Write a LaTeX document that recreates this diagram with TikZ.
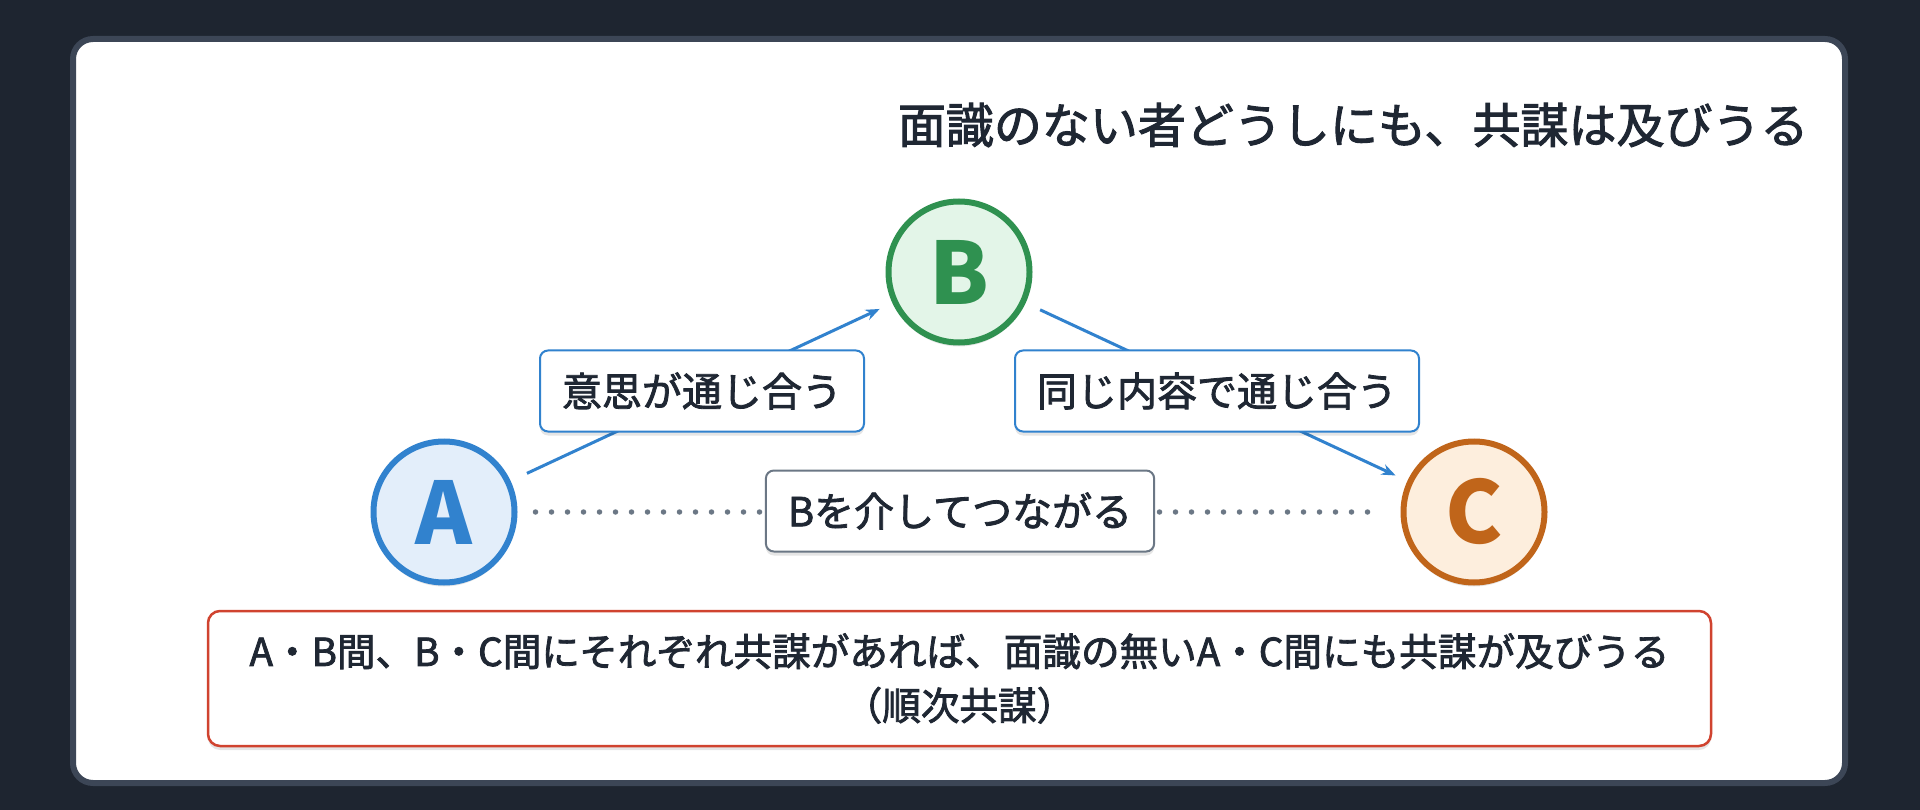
\documentclass[tikz,border=0pt]{standalone}
\usepackage{fontspec}
\setmainfont{Noto Sans CJK JP}
\newcommand\heavier[1]{\special{pdf:code 2 Tr #1 w}}
\usetikzlibrary{arrows.meta,shadows}
\definecolor{bgdark}{HTML}{1E2530}
\definecolor{cardline}{HTML}{3C4656}
\definecolor{ink}{HTML}{1F2733}
\definecolor{lineA}{HTML}{3182CE}
\definecolor{fillA}{HTML}{E3EEFA}
\definecolor{lineB}{HTML}{2F9150}
\definecolor{fillB}{HTML}{E3F5E8}
\definecolor{lineC}{HTML}{C0651A}
\definecolor{fillC}{HTML}{FDEEDD}
\definecolor{dotgray}{HTML}{6B7785}
\definecolor{notered}{HTML}{D0432F}
\tikzset{
	softshadow/.style={drop shadow={shadow xshift=0pt,shadow yshift=-4pt,opacity=0.10,fill=black}},
	person/.style={circle,line width=6pt,inner sep=0pt,minimum size=141pt,softshadow,
		font=\fontsize{86}{90}\selectfont\bfseries},
	linkbox/.style={draw=lineA,line width=2pt,fill=white,rounded corners=8pt,softshadow,
		minimum height=81pt,inner xsep=22pt,text=ink,font=\fontsize{40}{48}\selectfont\heavier{0.8}},
	link/.style={-{Stealth[length=14pt,width=11pt]},lineA,line width=3pt}
}
\begin{document}
\begin{tikzpicture}[x=1pt,y=-1pt]
			\fill[bgdark] (0,0) rectangle (1920,810);
			\draw[cardline,line width=6pt,fill=white,rounded corners=20pt] (73,39) rectangle (1845,783);
			\node[anchor=east,text=ink,font=\fontsize{48}{56}\selectfont\heavier{1}] (title) at (1812,125) {面識のない者どうしにも、共謀は及びうる};
			\foreach \n/\x/\y in {A/444/512,B/959/272,C/1474/512}{
				\node[person,draw=line\n,fill=fill\n,text=line\n] (\n) at (\x,\y) {\n};
			}
			\draw [link,shorten <=18pt,shorten >=14pt] (A)--(B);
			\draw [link,shorten <=16pt,shorten >=13pt] (B)--(C);
			\draw [dotgray,line width=5.5pt,line cap=round,dash pattern=on 0pt off 16pt,shorten <=18pt,shorten >=23pt] (A)--(C);
			\node[linkbox] (ab) at (702,391) {意思が通じ合う};
			\node[linkbox] (bc) at (1217,391) {同じ内容で通じ合う};
			\node[linkbox,draw=dotgray] (via) at (960,511) {Bを介してつながる};
			\node[draw=notered,line width=2.5pt,fill=white,rounded corners=12pt,softshadow,
				minimum width=1503pt,minimum height=135pt,align=center,text=ink,
				font=\fontsize{38.6}{54}\selectfont\heavier{0.8}] (note) at (959.5,678.5)
				{A・B間、B・C間にそれぞれ共謀があれば、面識の無いA・C間にも共謀が及びうる\\（順次共謀）};
			\end{tikzpicture}
\end{document}
